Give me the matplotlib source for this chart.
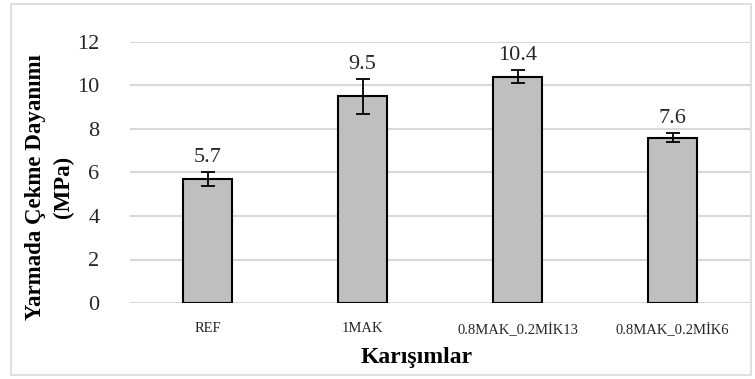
import matplotlib.pyplot as plt
from matplotlib.patches import Rectangle

categories = ["REF", "1MAK", "0.8MAK_0.2MİK13", "0.8MAK_0.2MİK6"]
strength = [5.7, 9.5, 10.4, 7.6]
error = [0.3, 0.8, 0.3, 0.2]
y_ticks = [0, 2, 4, 6, 8, 10, 12]

plt.rcParams["font.family"] = ["Liberation Serif", "DejaVu Serif"]

fig = plt.figure(figsize=(7.55, 3.79), dpi=100)
ax = fig.add_axes([130 / 755, 1 - 303 / 379, 620 / 755, 261 / 379])

x = list(range(len(categories)))
ax.bar(x, strength, width=0.316, color="#bfbfbf", edgecolor="black",
       linewidth=1.5, zorder=3)
ax.errorbar(x, strength, yerr=error, fmt="none", ecolor="black",
            elinewidth=1.3, capsize=5, capthick=1.3, zorder=4)

for xi, v, e in zip(x, strength, error):
    ax.text(xi, v + e + 0.25, f"{v:.1f}", ha="center", va="bottom",
            fontsize=16, color="#262626")

ax.set_xlim(-0.5, 3.5)
ax.set_ylim(0, 12)
ax.set_yticks(y_ticks)
ax.set_yticklabels([str(t) for t in y_ticks], fontsize=16, color="#262626")
ax.set_xticks(x)
ax.set_xticklabels(categories, fontsize=10.5, color="#262626")
ax.tick_params(axis="both", length=0)
ax.tick_params(axis="y", pad=22)
ax.tick_params(axis="x", pad=14)
ax.yaxis.grid(True, color="#d9d9d9", linewidth=1.5, zorder=0)
ax.set_axisbelow(True)
for side in ["top", "right", "left", "bottom"]:
    ax.spines[side].set_visible(False)

fig.text(36 / 755, 1 - 187 / 379, "Yarmada Çekme Dayanımı",
         rotation=90, ha="center", va="center", fontsize=16.5,
         fontweight="bold")
fig.text(63 / 755, 1 - 187 / 379, "(MPa)",
         rotation=90, ha="center", va="center", fontsize=16.5,
         fontweight="bold")
fig.text(417 / 755, 1 - 357 / 379, "Karışımlar", ha="center", va="center",
         fontsize=17, fontweight="bold")

fig.patches.append(Rectangle((11 / 755, 4 / 379), 740 / 755, 371 / 379,
                             transform=fig.transFigure, fill=False,
                             edgecolor="#d9d9d9", linewidth=1.2))

fig.savefig("out.png", dpi=100)
